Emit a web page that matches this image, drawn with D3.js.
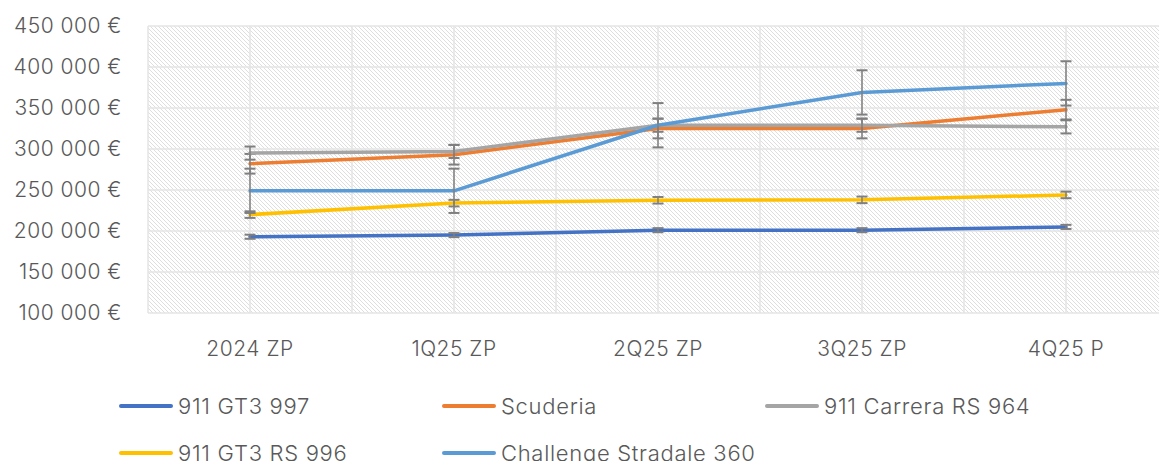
<!DOCTYPE html>
<html>
<head>
<meta charset="utf-8">
<script src="https://cdn.jsdelivr.net/npm/d3@7"></script>
<style>
  body { margin: 0; background: #fff; }
  text { font-family: Inter, "Noto Sans", sans-serif; fill: #595959; font-weight: 300; letter-spacing: 0.5px; }
</style>
</head>
<body>
<div id="chart"></div>
<script>
// data
var categories = ["2024 ZP", "1Q25 ZP", "2Q25 ZP", "3Q25 ZP", "4Q25 P"];
var seriesNames = ["911 GT3 997", "Scuderia", "911 Carrera RS 964", "911 GT3 RS 996", "Challenge Stradale 360"];
var gt3_997 = [193000, 195000, 201000, 201000, 205000];
var scuderia = [282000, 293000, 325000, 325000, 348000];
var carreraRS964 = [295000, 297000, 329000, 329000, 327000];
var gt3rs_996 = [220000, 234000, 237500, 238000, 244000];
var challenge360 = [249000, 249000, 329000, 369000, 380000];
var errorAmounts = [2500, 12000, 8000, 4000, 27000];
var yTicks = [100000, 150000, 200000, 250000, 300000, 350000, 400000, 450000];
var colors = ["#4472C4", "#ED7D31", "#A5A5A5", "#FFC000", "#5B9BD5"];

var allSeries = [gt3_997, scuderia, carreraRS964, gt3rs_996, challenge360];

//set up SVG
var svgWidth = 1159;
var svgHeight = 461;

var plot = { left: 148, top: 26, right: 1168, bottom: 313 };

var svg = d3.select("#chart")
    .append("svg")
    .attr("width", svgWidth)
    .attr("height", svgHeight);

// hatch pattern for plot background
var defs = svg.append("defs");
var pat = defs.append("pattern")
    .attr("id", "hatch")
    .attr("patternUnits", "userSpaceOnUse")
    .attr("width", 4)
    .attr("height", 4);
pat.append("path")
    .attr("d", "M-1,-1 L5,5 M-1,3 L1,5 M3,-1 L5,1")
    .attr("stroke", "#dedede")
    .attr("stroke-width", 1);

// scales
var xScale = d3.scaleBand()
    .domain(categories)
    .range([plot.left, plot.right])
    .paddingInner(0)
    .paddingOuter(0);
var bw = xScale.bandwidth();
var xc = function (c) { return xScale(c) + bw / 2; };

var yScale = d3.scaleLinear()
    .domain([100000, 450000])
    .range([plot.bottom, plot.top]);

svg.append("rect")
    .attr("x", plot.left)
    .attr("y", plot.top)
    .attr("width", plot.right - plot.left)
    .attr("height", plot.bottom - plot.top)
    .attr("fill", "url(#hatch)");

// gridlines
var grid = svg.append("g").attr("stroke", "#e4e4e4").attr("stroke-width", 1.5);
yTicks.forEach(function (t) {
    grid.append("line")
        .attr("x1", plot.left).attr("x2", plot.right)
        .attr("y1", yScale(t)).attr("y2", yScale(t));
});
var vlines = [];
categories.forEach(function (c) { vlines.push(xScale(c)); vlines.push(xc(c)); });
vlines.push(plot.right);
vlines.forEach(function (x) {
    grid.append("line")
        .attr("x1", x).attr("x2", x)
        .attr("y1", plot.top).attr("y2", plot.bottom);
});

// axes
var locale = d3.formatLocale({ decimal: ",", thousands: "\u00a0", grouping: [3], currency: ["", "\u00a0€"] });
var yAxis = d3.axisLeft(yScale)
    .tickValues(yTicks)
    .tickSize(0)
    .tickPadding(26)
    .tickFormat(function (d) { return locale.format(",")(d) + " €"; });
var yG = svg.append("g")
    .attr("transform", "translate(" + plot.left + ",0)")
    .call(yAxis);
yG.select(".domain").remove();
yG.selectAll("text").style("font-size", "21px").attr("fill", "#595959");

var xAxis = d3.axisBottom(xScale).tickSize(0).tickPadding(28);
var xG = svg.append("g")
    .attr("transform", "translate(0," + plot.bottom + ")")
    .call(xAxis);
xG.select(".domain").remove();
xG.selectAll("text").style("font-size", "21px").attr("fill", "#595959");

// lines + error bars
var line = d3.line()
    .x(function (d, i) { return xc(categories[i]); })
    .y(function (d) { return yScale(d); });

allSeries.forEach(function (vals, s) {
    var g = svg.append("g");
    g.append("path")
        .datum(vals)
        .attr("d", line)
        .attr("fill", "none")
        .attr("stroke", colors[s])
        .attr("stroke-width", 3.5)
        .attr("stroke-linecap", "round")
        .attr("stroke-linejoin", "round");

    var e = errorAmounts[s];
    vals.forEach(function (v, i) {
        var x = xc(categories[i]);
        var eb = g.append("g").attr("stroke", "#7f7f7f");
        eb.append("line")
            .attr("x1", x).attr("x2", x)
            .attr("y1", yScale(v + e)).attr("y2", yScale(v - e))
            .attr("stroke-width", 1.5);
        [v + e, v - e].forEach(function (w) {
            eb.append("line")
                .attr("x1", x - 5.5).attr("x2", x + 5.5)
                .attr("y1", yScale(w)).attr("y2", yScale(w))
                .attr("stroke-width", 2);
        });
    });
});

// legend
var legendPos = [[119, 406], [442, 406], [765, 406], [119, 453], [442, 453]];
seriesNames.forEach(function (name, i) {
    var p = legendPos[i];
    var lg = svg.append("g").attr("transform", "translate(" + p[0] + "," + p[1] + ")");
    lg.append("line")
        .attr("x1", 2).attr("x2", 52)
        .attr("y1", 0).attr("y2", 0)
        .attr("stroke", colors[i])
        .attr("stroke-width", 4)
        .attr("stroke-linecap", "round");
    lg.append("text")
        .attr("x", 59)
        .attr("y", 0)
        .attr("dy", "0.36em")
        .style("font-size", "22px")
        .style("letter-spacing", "0.7px")
        .text(name);
});
</script>
</body>
</html>
